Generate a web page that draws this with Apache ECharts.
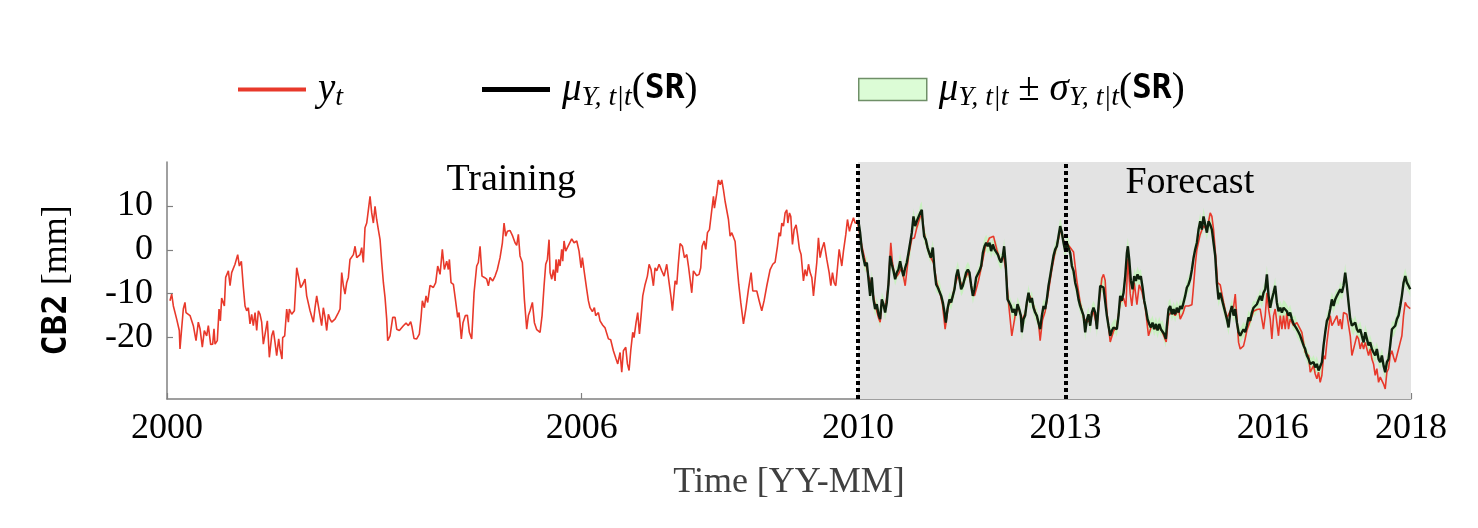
<!DOCTYPE html>
<html><head><meta charset="utf-8">
<script src="https://cdn.jsdelivr.net/npm/echarts@6/dist/echarts.min.js"></script>
<style>html,body{margin:0;padding:0;background:#fff}#c{width:1478px;height:528px}</style>
</head><body><div id="c"></div>
<script>
const xTickYears = [2000, 2006, 2010, 2013, 2016, 2018];
const yTickValues = [-20, -10, 0, 10];
const splitYears = [2010, 2013];
const forecastSpan = [2010, 2018];
const regionNotes = [[2004.98, 15.9, 'Training'], [2014.8, 15.3, 'Forecast']];

const obsTraining = [[2000.043,-11.6],[2000.068,-10.1],[2000.092,-12.8],[2000.140,-15.8],[2000.178,-18.4],[2000.188,-22.6],[2000.212,-18.0],[2000.236,-13.5],[2000.260,-12.0],[2000.275,-14.3],[2000.333,-15.0],[2000.357,-15.4],[2000.381,-17.3],[2000.420,-20.7],[2000.453,-16.5],[2000.478,-18.0],[2000.511,-22.2],[2000.540,-18.4],[2000.574,-19.6],[2000.598,-17.3],[2000.632,-21.6],[2000.661,-21.5],[2000.680,-18.0],[2000.695,-21.5],[2000.728,-20.7],[2000.753,-13.5],[2000.772,-16.2],[2000.791,-11.0],[2000.815,-11.3],[2000.830,-12.8],[2000.849,-6.3],[2000.868,-6.7],[2000.888,-4.8],[2000.912,-8.2],[2000.936,-5.2],[2000.960,-5.6],[2000.984,-3.3],[2001.023,-1.1],[2001.047,-3.7],[2001.076,-2.6],[2001.105,-8.6],[2001.129,-12.8],[2001.153,-13.9],[2001.177,-13.2],[2001.201,-16.9],[2001.225,-14.7],[2001.249,-17.3],[2001.274,-14.3],[2001.298,-18.4],[2001.322,-13.9],[2001.346,-14.7],[2001.370,-16.5],[2001.394,-21.5],[2001.418,-21.5],[2001.452,-16.2],[2001.481,-24.5],[2001.515,-19.6],[2001.539,-18.4],[2001.563,-21.1],[2001.587,-24.1],[2001.616,-20.3],[2001.635,-22.6],[2001.664,-24.9],[2001.674,-20.0],[2001.703,-19.6],[2001.732,-13.5],[2001.756,-16.5],[2001.770,-13.5],[2001.804,-14.7],[2001.843,-13.9],[2001.877,-4.1],[2001.905,-3.7],[2001.934,-8.6],[2001.963,-7.9],[2001.997,-6.7],[2002.021,-10.5],[2002.045,-10.1],[2002.070,-13.9],[2002.094,-13.5],[2002.118,-16.5],[2002.142,-13.2],[2002.166,-10.5],[2002.190,-12.8],[2002.214,-12.4],[2002.238,-17.3],[2002.262,-13.2],[2002.287,-15.4],[2002.311,-18.4],[2002.335,-14.7],[2002.359,-15.8],[2002.383,-16.5],[2002.431,-15.8],[2002.480,-14.3],[2002.504,-13.5],[2002.528,-5.2],[2002.552,-8.2],[2002.576,-10.1],[2002.600,-7.5],[2002.624,-6.3],[2002.648,-2.2],[2002.672,-1.8],[2002.697,-1.1],[2002.721,0.8],[2002.745,-1.8],[2002.769,-2.2],[2002.793,-1.1],[2002.817,0.5],[2002.841,-2.9],[2002.865,5.0],[2002.890,6.1],[2002.914,9.1],[2002.938,12.2],[2002.962,8.4],[2002.986,6.1],[2003.010,9.9],[2003.034,6.9],[2003.058,4.6],[2003.083,2.3],[2003.107,-2.9],[2003.131,-7.5],[2003.155,-10.9],[2003.179,-15.8],[2003.193,-20.7],[2003.227,-19.6],[2003.266,-15.4],[2003.300,-15.4],[2003.324,-18.1],[2003.362,-18.4],[2003.420,-17.3],[2003.459,-16.7],[2003.492,-17.3],[2003.526,-16.4],[2003.545,-17.6],[2003.574,-20.2],[2003.613,-20.3],[2003.651,-19.2],[2003.676,-15.4],[2003.695,-11.6],[2003.724,-13.2],[2003.748,-10.5],[2003.772,-12.0],[2003.806,-8.1],[2003.854,-8.6],[2003.888,-7.5],[2003.917,-3.7],[2003.951,-5.6],[2003.984,0.1],[2004.013,-4.5],[2004.047,-2.6],[2004.071,-4.5],[2004.086,-2.2],[2004.110,-7.5],[2004.144,-7.9],[2004.173,-11.3],[2004.206,-15.4],[2004.226,-14.3],[2004.259,-20.3],[2004.283,-16.6],[2004.317,-15.0],[2004.346,-14.9],[2004.375,-18.8],[2004.409,-20.3],[2004.443,-9.8],[2004.481,-3.7],[2004.505,-2.9],[2004.530,0.8],[2004.558,-6.0],[2004.592,-6.3],[2004.626,-6.7],[2004.650,-8.2],[2004.674,-6.3],[2004.713,-7.1],[2004.747,-6.0],[2004.780,-4.5],[2004.819,-1.8],[2004.853,1.6],[2004.877,6.1],[2004.901,3.1],[2004.925,4.2],[2004.964,4.4],[2005.002,3.1],[2005.036,1.6],[2005.060,1.0],[2005.084,3.5],[2005.108,-1.4],[2005.142,-2.9],[2005.171,-11.3],[2005.205,-18.1],[2005.229,-15.0],[2005.253,-13.9],[2005.287,-12.0],[2005.316,-16.6],[2005.350,-18.2],[2005.398,-18.8],[2005.427,-15.0],[2005.456,-8.2],[2005.480,-3.3],[2005.504,-2.2],[2005.528,2.3],[2005.543,-5.2],[2005.567,-6.7],[2005.591,-4.5],[2005.615,-7.1],[2005.629,-2.2],[2005.649,-5.2],[2005.668,-2.2],[2005.687,-3.7],[2005.711,0.1],[2005.726,-2.6],[2005.745,2.0],[2005.769,-0.3],[2005.793,0.5],[2005.818,0.1],[2005.856,2.5],[2005.890,1.6],[2005.929,2.0],[2005.962,-0.3],[2005.991,-4.1],[2006.010,-1.8],[2006.039,-5.2],[2006.073,-9.0],[2006.097,-11.6],[2006.121,-13.2],[2006.155,-14.1],[2006.184,-13.2],[2006.203,-15.0],[2006.242,-14.3],[2006.266,-16.2],[2006.305,-17.2],[2006.339,-17.8],[2006.387,-20.3],[2006.420,-20.5],[2006.459,-23.0],[2006.498,-24.9],[2006.522,-26.0],[2006.556,-23.4],[2006.580,-27.9],[2006.604,-23.0],[2006.638,-22.2],[2006.662,-26.0],[2006.686,-27.5],[2006.710,-23.0],[2006.739,-18.8],[2006.758,-20.0],[2006.787,-16.6],[2006.811,-14.3],[2006.836,-19.2],[2006.860,-15.0],[2006.884,-10.5],[2006.918,-7.9],[2006.951,-6.0],[2006.976,-3.3],[2007.004,-4.5],[2007.038,-8.2],[2007.062,-4.1],[2007.087,-4.8],[2007.120,-3.3],[2007.159,-4.8],[2007.193,-6.0],[2007.231,-3.3],[2007.265,-7.5],[2007.294,-10.9],[2007.313,-13.9],[2007.352,-7.1],[2007.376,-7.9],[2007.400,-2.9],[2007.424,1.4],[2007.458,0.8],[2007.487,-1.8],[2007.521,-1.1],[2007.545,-3.7],[2007.569,-3.3],[2007.593,-9.8],[2007.617,-4.8],[2007.641,-4.5],[2007.665,-5.9],[2007.699,-5.6],[2007.723,-4.1],[2007.743,0.8],[2007.772,2.0],[2007.796,0.1],[2007.820,3.9],[2007.849,4.6],[2007.883,9.1],[2007.907,12.2],[2007.921,9.5],[2007.955,12.9],[2007.979,15.9],[2008.003,14.8],[2008.027,15.9],[2008.051,13.7],[2008.076,11.0],[2008.100,10.7],[2008.124,6.9],[2008.148,3.1],[2008.172,3.9],[2008.196,3.9],[2008.220,1.9],[2008.244,-2.9],[2008.273,-7.9],[2008.302,-12.0],[2008.341,-16.9],[2008.375,-13.5],[2008.413,-9.0],[2008.452,-5.2],[2008.476,-9.4],[2008.500,-9.4],[2008.534,-9.4],[2008.568,-11.6],[2008.606,-13.9],[2008.640,-11.6],[2008.679,-8.2],[2008.727,-4.5],[2008.765,-3.3],[2008.799,-2.8],[2008.833,0.8],[2008.857,3.9],[2008.876,3.1],[2008.896,6.1],[2008.920,5.4],[2008.944,8.4],[2008.968,9.1],[2008.983,6.1],[2009.007,8.4],[2009.026,7.6],[2009.050,1.2],[2009.074,4.6],[2009.103,5.7],[2009.127,3.1],[2009.151,0.1],[2009.175,-1.1],[2009.195,-1.1],[2009.209,-7.1],[2009.233,-4.5],[2009.257,-6.0],[2009.282,-3.3],[2009.306,-5.2],[2009.330,-6.3],[2009.354,-10.5],[2009.378,-6.7],[2009.402,-2.9],[2009.426,2.7],[2009.450,-1.8],[2009.475,0.1],[2009.508,1.7],[2009.547,-2.2],[2009.581,-5.2],[2009.605,-8.2],[2009.629,-5.2],[2009.653,-7.5],[2009.677,-8.2],[2009.701,-7.9],[2009.726,0.1],[2009.764,-3.7],[2009.788,-0.3],[2009.822,3.5],[2009.846,6.9],[2009.875,4.2],[2009.899,5.7],[2009.933,7.3],[2009.957,6.1],[2009.991,6.3]];

const obsForecast = [[2010.005,6.5],[2010.053,1.0],[2010.102,-2.5],[2010.150,-6.0],[2010.198,-8.5],[2010.246,-12.5],[2010.295,-15.5],[2010.319,-16.5],[2010.343,-12.0],[2010.391,-13.5],[2010.439,-8.0],[2010.473,1.6],[2010.497,-3.0],[2010.536,-6.5],[2010.584,-5.5],[2010.632,-4.0],[2010.681,-8.2],[2010.729,-1.5],[2010.777,2.5],[2010.815,2.7],[2010.849,5.0],[2010.898,7.5],[2010.922,8.0],[2010.955,4.0],[2010.994,1.0],[2011.042,-1.5],[2011.091,-3.0],[2011.139,-7.5],[2011.187,-10.0],[2011.221,-12.5],[2011.259,-18.1],[2011.307,-12.5],[2011.356,-11.5],[2011.404,-8.0],[2011.453,-5.5],[2011.501,-8.5],[2011.549,-6.5],[2011.598,-5.0],[2011.646,-9.0],[2011.684,-10.5],[2011.742,-7.0],[2011.790,-3.5],[2011.838,0.5],[2011.901,2.7],[2011.959,3.1],[2012.008,0.0],[2012.056,-2.5],[2012.104,-1.5],[2012.137,-4.5],[2012.176,-12.0],[2012.224,-19.6],[2012.272,-15.0],[2012.321,-13.0],[2012.369,-16.0],[2012.417,-14.5],[2012.466,-10.0],[2012.514,-11.5],[2012.562,-14.0],[2012.610,-16.5],[2012.634,-20.7],[2012.668,-16.0],[2012.707,-14.0],[2012.755,-9.5],[2012.803,-4.5],[2012.852,-0.5],[2012.900,2.5],[2012.934,5.0],[2012.972,2.0],[2013.020,1.5],[2013.069,0.5],[2013.117,-0.5],[2013.165,-7.0],[2013.213,-12.0],[2013.262,-15.5],[2013.310,-16.5],[2013.358,-16.0],[2013.406,-14.0],[2013.455,-17.5],[2013.494,-11.0],[2013.527,-6.5],[2013.551,-5.6],[2013.575,-7.0],[2013.599,-14.0],[2013.648,-21.0],[2013.696,-18.5],[2013.744,-17.5],[2013.792,-12.0],[2013.841,-11.0],[2013.875,-13.0],[2013.903,-2.0],[2013.937,-10.0],[2013.961,-12.8],[2013.995,-7.5],[2014.034,-12.5],[2014.067,-8.0],[2014.106,-9.5],[2014.154,-13.0],[2014.202,-19.6],[2014.251,-17.0],[2014.299,-18.0],[2014.347,-17.5],[2014.395,-18.5],[2014.458,-21.0],[2014.492,-15.0],[2014.540,-14.0],[2014.588,-15.0],[2014.637,-13.5],[2014.661,-15.8],[2014.700,-14.5],[2014.733,-12.8],[2014.781,-12.8],[2014.830,-12.5],[2014.854,-8.2],[2014.878,-3.5],[2014.902,0.0],[2014.950,3.5],[2014.998,5.5],[2015.047,4.5],[2015.095,8.4],[2015.119,7.6],[2015.143,4.6],[2015.177,-2.0],[2015.201,-7.5],[2015.240,-8.0],[2015.288,-12.0],[2015.336,-15.5],[2015.384,-14.0],[2015.433,-13.0],[2015.457,-10.1],[2015.505,-21.1],[2015.529,-22.6],[2015.553,-22.3],[2015.577,-21.9],[2015.601,-20.3],[2015.625,-18.4],[2015.673,-16.2],[2015.722,-14.0],[2015.770,-13.6],[2015.818,-13.5],[2015.866,-18.1],[2015.891,-15.0],[2015.915,-9.8],[2015.939,-13.5],[2015.963,-15.8],[2015.987,-20.3],[2016.011,-15.0],[2016.035,-13.5],[2016.059,-16.6],[2016.083,-19.6],[2016.108,-15.0],[2016.132,-18.1],[2016.156,-15.0],[2016.180,-18.1],[2016.204,-14.3],[2016.228,-18.1],[2016.252,-15.8],[2016.301,-17.3],[2016.349,-16.6],[2016.373,-16.2],[2016.421,-18.8],[2016.469,-23.4],[2016.518,-24.1],[2016.542,-27.9],[2016.590,-26.4],[2016.614,-28.3],[2016.638,-29.4],[2016.662,-27.9],[2016.686,-30.2],[2016.711,-28.6],[2016.735,-24.1],[2016.759,-24.9],[2016.783,-21.1],[2016.807,-18.1],[2016.831,-15.0],[2016.855,-17.3],[2016.879,-16.6],[2016.904,-15.8],[2016.928,-15.0],[2016.952,-17.3],[2016.976,-15.8],[2017.000,-18.1],[2017.024,-14.3],[2017.048,-14.0],[2017.072,-14.7],[2017.096,-15.0],[2017.121,-19.6],[2017.145,-24.1],[2017.169,-22.6],[2017.193,-21.1],[2017.217,-19.6],[2017.241,-20.3],[2017.265,-22.6],[2017.289,-21.1],[2017.314,-22.6],[2017.338,-21.1],[2017.362,-22.6],[2017.386,-24.1],[2017.410,-22.6],[2017.434,-24.9],[2017.458,-26.0],[2017.482,-28.6],[2017.506,-27.1],[2017.531,-30.2],[2017.555,-29.0],[2017.579,-29.4],[2017.603,-30.6],[2017.627,-31.7],[2017.651,-27.9],[2017.675,-27.1],[2017.699,-24.1],[2017.724,-23.0],[2017.748,-24.5],[2017.772,-25.6],[2017.796,-24.1],[2017.820,-22.6],[2017.844,-21.1],[2017.868,-19.6],[2017.892,-15.0],[2017.917,-12.0],[2017.941,-12.8],[2017.965,-13.2],[2017.989,-13.4]];

// [time, mu, sigma]
const muForecast = [[2010.005,6.5,1.5],[2010.029,3.9,1.6],[2010.053,0.1,1.7],[2010.077,-1.8,1.6],[2010.102,-3.7,1.5],[2010.126,-2.9,1.6],[2010.150,-6.7,1.8],[2010.174,-10.5,1.7],[2010.198,-6.3,1.6],[2010.222,-11.3,1.8],[2010.246,-13.5,1.7],[2010.270,-12.4,1.6],[2010.295,-14.7,1.7],[2010.319,-15.8,1.9],[2010.343,-11.3,1.7],[2010.367,-12.4,1.6],[2010.391,-14.3,1.8],[2010.415,-12.0,1.7],[2010.439,-7.9,1.6],[2010.463,-1.4,1.9],[2010.488,-3.3,1.7],[2010.512,-4.8,1.6],[2010.536,-6.7,1.5],[2010.560,-5.2,1.6],[2010.584,-4.5,1.7],[2010.608,-2.6,1.8],[2010.632,-4.5,1.6],[2010.656,-6.0,1.5],[2010.681,-4.1,1.7],[2010.705,-2.9,1.6],[2010.729,-0.7,1.7],[2010.753,-0.3,1.8],[2010.777,3.9,1.9],[2010.801,7.6,1.8],[2010.825,5.4,1.7],[2010.849,6.5,1.6],[2010.874,6.8,1.8],[2010.898,8.4,2.0],[2010.922,9.1,1.9],[2010.936,6.1,1.7],[2010.955,3.1,1.6],[2010.980,2.3,1.7],[2011.004,0.5,1.6],[2011.028,-0.7,1.5],[2011.052,-1.8,1.6],[2011.081,0.5,1.8],[2011.105,-4.5,1.7],[2011.129,-7.9,1.6],[2011.153,-8.6,1.5],[2011.177,-8.4,1.6],[2011.202,-10.5,1.7],[2011.226,-12.0,1.6],[2011.250,-14.3,1.8],[2011.269,-16.6,1.9],[2011.293,-13.5,1.7],[2011.322,-11.3,1.6],[2011.346,-12.0,1.7],[2011.370,-10.5,1.6],[2011.395,-9.0,1.7],[2011.419,-6.0,1.8],[2011.443,-4.5,1.9],[2011.467,-6.7,1.7],[2011.491,-9.0,1.6],[2011.515,-8.2,1.7],[2011.539,-6.7,1.6],[2011.563,-5.2,1.7],[2011.588,-4.5,1.8],[2011.612,-5.2,1.7],[2011.636,-8.2,1.6],[2011.660,-10.5,1.8],[2011.684,-9.0,1.7],[2011.708,-6.3,1.6],[2011.732,-6.0,1.5],[2011.756,-4.8,1.6],[2011.781,-3.7,1.7],[2011.805,-0.7,1.8],[2011.829,0.8,1.9],[2011.853,1.6,1.8],[2011.877,0.8,1.7],[2011.901,1.6,1.8],[2011.925,-0.3,1.7],[2011.949,1.2,1.6],[2011.974,0.1,1.7],[2011.998,0.5,1.6],[2012.022,-1.1,1.7],[2012.046,-2.2,1.8],[2012.070,-2.9,1.7],[2012.094,-1.4,1.6],[2012.113,0.8,1.8],[2012.137,-3.7,1.9],[2012.162,-11.3,1.8],[2012.186,-12.0,1.7],[2012.210,-12.8,1.6],[2012.234,-14.3,1.7],[2012.258,-13.5,1.8],[2012.282,-15.0,1.7],[2012.306,-12.4,1.6],[2012.330,-13.5,1.7],[2012.355,-15.0,1.8],[2012.369,-18.8,2.0],[2012.393,-15.8,1.8],[2012.417,-15.0,1.7],[2012.441,-12.0,1.6],[2012.466,-9.8,1.8],[2012.490,-12.0,1.7],[2012.514,-11.0,1.6],[2012.538,-13.2,1.7],[2012.562,-14.3,1.6],[2012.586,-15.0,1.7],[2012.610,-16.6,1.8],[2012.634,-18.1,1.9],[2012.659,-15.0,1.7],[2012.683,-12.8,1.6],[2012.707,-13.5,1.7],[2012.731,-11.3,1.6],[2012.755,-8.2,1.7],[2012.779,-6.0,1.8],[2012.803,-3.7,1.7],[2012.827,-1.4,1.6],[2012.852,0.1,1.7],[2012.876,0.8,1.6],[2012.900,3.1,1.8],[2012.924,5.4,1.9],[2012.948,3.9,1.7],[2012.972,1.6,1.6],[2012.996,-0.3,1.7],[2013.020,1.6,1.8],[2013.044,1.2,1.7],[2013.069,-0.7,1.6],[2013.093,-3.7,1.7],[2013.117,-4.8,1.8],[2013.141,-7.5,1.7],[2013.165,-9.0,1.6],[2013.189,-11.3,1.7],[2013.213,-12.8,1.8],[2013.238,-13.9,1.7],[2013.262,-15.0,1.6],[2013.286,-18.8,1.9],[2013.310,-15.9,1.7],[2013.334,-14.7,1.6],[2013.358,-17.3,1.8],[2013.382,-14.3,1.7],[2013.406,-13.2,1.6],[2013.431,-14.3,1.7],[2013.455,-18.1,1.8],[2013.479,-12.8,1.7],[2013.503,-8.2,1.8],[2013.527,-7.9,1.7],[2013.551,-8.6,1.6],[2013.575,-9.0,1.7],[2013.599,-15.0,1.8],[2013.623,-17.3,1.7],[2013.648,-19.6,1.9],[2013.672,-18.4,1.7],[2013.696,-17.7,1.6],[2013.720,-17.3,1.7],[2013.744,-18.1,1.8],[2013.768,-15.0,1.7],[2013.792,-10.5,1.6],[2013.816,-11.6,1.7],[2013.841,-9.8,1.8],[2013.865,-6.0,1.7],[2013.889,-0.7,1.9],[2013.903,0.8,2.0],[2013.923,-2.2,1.8],[2013.947,-7.1,1.7],[2013.971,-9.0,1.6],[2013.995,-6.0,1.8],[2014.019,-7.1,1.7],[2014.043,-5.6,1.8],[2014.067,-6.7,1.7],[2014.091,-6.0,1.6],[2014.116,-8.6,1.7],[2014.140,-11.6,1.8],[2014.164,-13.5,1.7],[2014.188,-15.8,1.6],[2014.212,-16.9,1.7],[2014.236,-17.7,1.8],[2014.260,-16.6,1.7],[2014.284,-18.1,1.6],[2014.309,-16.9,1.7],[2014.333,-18.4,1.8],[2014.357,-16.9,1.7],[2014.381,-18.1,1.6],[2014.405,-17.7,1.7],[2014.429,-19.2,1.8],[2014.453,-20.3,1.9],[2014.468,-17.3,1.7],[2014.492,-13.5,1.8],[2014.516,-12.8,1.7],[2014.540,-14.7,1.6],[2014.564,-13.5,1.7],[2014.588,-14.7,1.8],[2014.612,-13.2,1.7],[2014.637,-14.3,1.6],[2014.661,-12.8,1.7],[2014.685,-13.5,1.8],[2014.709,-12.0,1.7],[2014.733,-10.5,1.6],[2014.757,-8.6,1.7],[2014.781,-7.9,1.8],[2014.805,-6.7,1.7],[2014.830,-4.5,1.8],[2014.854,-1.8,1.7],[2014.878,0.1,1.6],[2014.902,1.6,1.7],[2014.926,4.6,1.8],[2014.950,6.5,1.9],[2014.974,4.6,1.8],[2014.998,7.6,2.0],[2015.023,5.7,1.8],[2015.047,3.9,1.7],[2015.071,6.5,1.8],[2015.095,5.7,1.7],[2015.119,4.6,1.8],[2015.143,1.6,1.7],[2015.167,-1.4,1.6],[2015.191,-7.5,1.8],[2015.215,-11.3,1.7],[2015.240,-9.8,1.6],[2015.264,-11.3,1.7],[2015.288,-12.8,1.8],[2015.312,-14.3,1.7],[2015.336,-15.8,1.6],[2015.360,-17.7,1.8],[2015.384,-14.3,1.7],[2015.408,-12.8,1.6],[2015.433,-15.0,1.7],[2015.457,-13.5,1.8],[2015.481,-16.6,1.7],[2015.505,-18.8,1.8],[2015.529,-19.6,1.7],[2015.553,-18.8,1.6],[2015.577,-18.1,1.7],[2015.601,-18.8,1.8],[2015.625,-17.3,1.7],[2015.649,-15.4,1.6],[2015.673,-16.2,1.7],[2015.698,-14.3,1.8],[2015.722,-13.2,1.7],[2015.746,-13.5,1.6],[2015.770,-12.4,1.7],[2015.794,-12.0,1.8],[2015.818,-10.5,1.7],[2015.842,-11.6,1.6],[2015.866,-9.8,1.7],[2015.891,-9.0,1.8],[2015.915,-5.6,2.0],[2015.939,-10.5,1.8],[2015.963,-13.2,1.7],[2015.987,-11.3,1.6],[2016.011,-9.8,1.7],[2016.035,-8.2,1.9],[2016.059,-12.0,1.8],[2016.083,-14.0,1.7],[2016.108,-13.2,1.6],[2016.132,-14.3,1.7],[2016.156,-13.2,1.8],[2016.180,-13.5,1.7],[2016.204,-14.0,1.6],[2016.228,-15.0,1.7],[2016.252,-14.3,1.8],[2016.276,-15.8,1.7],[2016.301,-16.9,1.6],[2016.325,-16.6,1.7],[2016.349,-18.1,1.8],[2016.373,-18.8,1.7],[2016.397,-19.6,1.6],[2016.421,-20.0,1.7],[2016.445,-21.8,1.8],[2016.469,-22.6,1.7],[2016.493,-24.1,1.6],[2016.518,-24.9,1.7],[2016.542,-26.0,1.8],[2016.566,-26.4,1.7],[2016.590,-25.6,1.6],[2016.614,-26.8,1.7],[2016.638,-26.0,1.8],[2016.662,-27.5,1.7],[2016.686,-27.9,1.8],[2016.711,-25.6,1.7],[2016.735,-21.8,1.6],[2016.759,-18.8,1.7],[2016.783,-16.2,1.8],[2016.807,-15.4,1.7],[2016.831,-13.5,1.6],[2016.855,-11.3,1.7],[2016.879,-12.8,1.8],[2016.904,-11.3,1.7],[2016.928,-10.5,1.6],[2016.952,-10.9,1.7],[2016.976,-9.0,1.8],[2017.000,-9.8,1.7],[2017.024,-8.2,1.8],[2017.048,-5.2,2.0],[2017.072,-8.2,1.8],[2017.096,-12.0,1.7],[2017.121,-15.8,1.6],[2017.145,-17.3,1.7],[2017.169,-17.7,1.8],[2017.193,-16.6,1.7],[2017.217,-18.1,1.6],[2017.241,-18.8,1.7],[2017.265,-18.1,1.8],[2017.289,-19.6,1.7],[2017.314,-21.1,1.6],[2017.338,-18.8,1.7],[2017.362,-20.3,1.8],[2017.386,-21.8,1.7],[2017.410,-21.1,1.6],[2017.434,-22.6,1.7],[2017.458,-23.4,1.8],[2017.482,-24.1,1.7],[2017.506,-22.6,1.6],[2017.531,-24.9,1.7],[2017.555,-25.6,1.8],[2017.579,-24.1,1.7],[2017.603,-26.4,1.8],[2017.627,-27.9,1.9],[2017.651,-25.6,1.7],[2017.675,-24.9,1.6],[2017.699,-21.8,1.7],[2017.724,-18.1,1.8],[2017.748,-18.1,1.7],[2017.772,-17.3,1.6],[2017.796,-15.8,1.7],[2017.820,-15.0,1.8],[2017.844,-12.8,1.7],[2017.868,-10.5,1.8],[2017.892,-7.5,1.9],[2017.917,-6.0,1.8],[2017.941,-7.5,1.7],[2017.965,-8.2,1.6],[2017.989,-9.0,1.7]];

const SERIF = 'Liberation Serif';
const MONO = 'DejaVu Sans Mono';
const RED = '#e8392b';
const DARK = '#0f210d';

const richMath = {
  it: {fontFamily: SERIF, fontStyle: 'italic', fontSize: 39, lineHeight: 44, color: '#000'},
  sub: {fontFamily: SERIF, fontStyle: 'italic', fontSize: 28, lineHeight: 28, verticalAlign: 'bottom', color: '#000'},
  rm: {fontFamily: SERIF, fontSize: 39, lineHeight: 44, color: '#000'},
  tt: {fontFamily: MONO, fontWeight: 'bold', fontSize: 33, lineHeight: 44, color: '#000'}
};
const legendText = {
  yt: '{it|y}{sub|t}',
  mu: '{it|μ}{sub|Y, t|t}{rm|(}{tt|SR}{rm|)}',
  band: '{it|μ}{sub|Y, t|t}{rm| ± }{it|σ}{sub|Y, t|t}{rm|(}{tt|SR}{rm|)}'
};
function mkLegend(name, left, icon, h, itemStyle) {
  return {
    left: left, top: 70, orient: 'horizontal', padding: 0,
    itemWidth: 68, itemHeight: h, selectedMode: false, icon: icon,
    data: [{name: name, icon: icon, itemStyle: itemStyle}],
    formatter: n => legendText[n],
    textStyle: {fontFamily: SERIF, fontSize: 39, padding: [0, 0, 0, 7], rich: richMath}
  };
}

const chart = echarts.init(document.getElementById('c'), null, {renderer: 'canvas'});
const option = {
  animation: false,
  backgroundColor: '#fff',
  legend: [
    mkLegend('yt', 238, 'rect', 4, {color: RED}),
    mkLegend('mu', 482, 'rect', 5, {color: '#000'}),
    mkLegend('band', 858, 'rect', 22, {color: '#dcfcd6', borderColor: '#6f8f68', borderWidth: 1.5})
  ],
  grid: {left: 167, right: 67, top: 162, bottom: 129},
  xAxis: {
    type: 'value', min: 2000, max: 2018,
    axisLine: {show: true, onZero: false, lineStyle: {color: '#808080', width: 1.5}},
    axisTick: {show: true, inside: true, length: 6, customValues: xTickYears, lineStyle: {color: '#808080', width: 1.2}},
    axisLabel: {customValues: xTickYears, formatter: v => String(Math.round(v)), fontFamily: SERIF, fontSize: 36, color: '#000', margin: 12},
    splitLine: {show: false},
    name: 'Time [YY-MM]', nameLocation: 'middle', nameGap: 66,
    nameTextStyle: {fontFamily: SERIF, fontSize: 36, color: '#404040'}
  },
  yAxis: {
    type: 'value', min: -34, max: 20,
    axisLine: {show: true, onZero: false, lineStyle: {color: '#808080', width: 1.5}},
    axisTick: {show: true, inside: true, length: 6, customValues: yTickValues, lineStyle: {color: '#808080', width: 1.2}},
    axisLabel: {customValues: yTickValues, formatter: v => String(v), fontFamily: SERIF, fontSize: 36, color: '#000', margin: 14},
    splitLine: {show: false},
    name: '{tt|CB2}{rm| [mm]}', nameLocation: 'middle', nameGap: 92, nameRotate: 90,
    nameTextStyle: {rich: {
      tt: {fontFamily: MONO, fontWeight: 'bold', fontSize: 34, color: '#000'},
      rm: {fontFamily: SERIF, fontSize: 36, color: '#000'}
    }}
  },
  series: [
    {
      name: 'shade', type: 'line', data: [], z: 1, silent: true,
      markArea: {silent: true, itemStyle: {color: '#e3e3e3'},
        data: [[{xAxis: forecastSpan[0]}, {xAxis: forecastSpan[1]}]]}
    },
    {
      name: 'band', type: 'custom', z: 2, silent: true,
      itemStyle: {color: '#dcfcd6'},
      data: muForecast.map(d => [d[0], d[1]]),
      encode: {x: 0, y: 1},
      renderItem: function (params, api) {
        if (params.dataIndex !== 0) return null;
        const up = [], lo = [];
        for (const d of muForecast) {
          up.push(api.coord([d[0], d[1] + d[2]]));
          lo.push(api.coord([d[0], d[1] - d[2]]));
        }
        return {type: 'polygon', shape: {points: up.concat(lo.reverse())},
          style: {fill: 'rgba(196,242,186,0.85)', stroke: null}};
      }
    },
    {
      name: 'yt', type: 'line', z: 3, symbol: 'none', silent: true,
      data: obsTraining.concat(obsForecast),
      lineStyle: {color: RED, width: 1.6}, itemStyle: {color: RED}
    },
    {
      name: 'mu', type: 'line', z: 4, symbol: 'none', silent: true,
      data: muForecast.map(d => [d[0], d[1]]),
      lineStyle: {color: DARK, width: 2.4}, itemStyle: {color: DARK},
      markLine: {
        silent: true, symbol: ['none', 'none'], label: {show: false},
        lineStyle: {color: '#000', width: 4, type: [4, 3], opacity: 1},
        data: splitYears.map(y => ({xAxis: y}))
      }
    },
    {
      name: 'notes', type: 'scatter', z: 5, silent: true, symbolSize: 0,
      itemStyle: {opacity: 1},
      data: regionNotes,
      label: {show: true, position: 'inside', formatter: p => p.data[2],
        fontFamily: SERIF, fontSize: 38, color: '#000', opacity: 1}
    }
  ]
};
chart.setOption(option);
</script>
</body></html>
